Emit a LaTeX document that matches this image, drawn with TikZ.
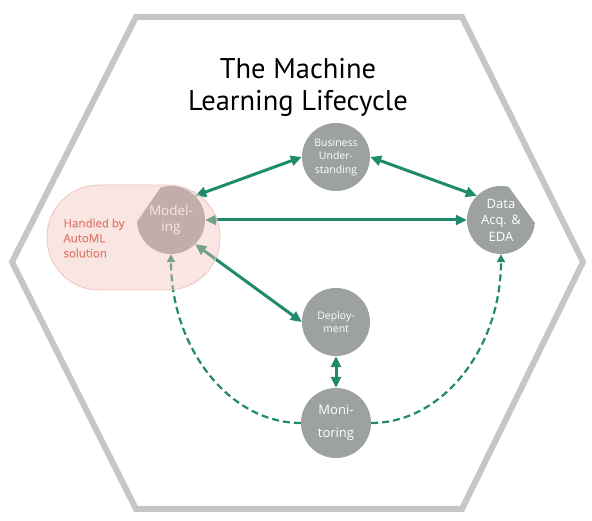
\documentclass[tikz,border=0pt]{standalone}
\usepackage{fontspec}
\setmainfont{Open Sans}
\newfontfamily\titlefont{PT Sans}
\newfontfamily\automlfont[FakeBold=0.9]{Open Sans}
\usetikzlibrary{arrows.meta}
\definecolor{hexgray}{HTML}{C6C6C6}
\definecolor{stagegray}{HTML}{9EA1A1}
\definecolor{cyclegreen}{HTML}{1F8A6C}
\definecolor{automlpink}{HTML}{F2C2BC}
\definecolor{automlline}{HTML}{EFC6C1}
\definecolor{automltext}{HTML}{E27D6D}

\begin{document}
\begin{tikzpicture}[x=1pt,y=1pt,
    stage/.style={circle,minimum size=68pt,inner sep=0pt,text=white,align=center},
    link/.style={cyclegreen,line width=3pt,{Triangle[length=11pt,width=10pt]}-{Triangle[length=11pt,width=10pt]}},
    feedback/.style={cyclegreen,line width=2.2pt,dash pattern=on 7pt off 4pt,-{Triangle[length=8pt,width=8pt]}}]
    \fill[white] (0,0) rectangle (592,521);
    \useasboundingbox (0,0) rectangle (592,521);

    % Frame and title
    \draw[hexgray,line width=6pt] (136,504) -- (462,504) -- (583,259)
    -- (462,12) -- (136,12) -- (12,259) -- cycle;
    \node[font=\titlefont\fontsize{28.5}{32}\selectfont,align=center] (title) at (298,434) {The Machine\\Learning Lifecycle};

    % Stages
    \fill[stagegray] (171,301) ++(183:34) arc[start angle=183,end angle=468,radius=34] -- cycle;
    \fill[stagegray] (501,301) ++(77:34) arc[start angle=77,end angle=355,radius=34] -- cycle;
    \node[stage,font=\fontsize{13.5}{16.5}\selectfont] (model) at (171,301) {Model-\\ing};
    \node[stage,font=\fontsize{13}{16.5}\selectfont] (data) at (501,301) {Data\\Acq. \&\\EDA};
    \node[stage,fill=stagegray,font=\fontsize{10.5}{13.5}\selectfont] (busi) at (336,364) {Business\\Under-\\standing};
    \node[stage,fill=stagegray,font=\fontsize{10.5}{13.5}\selectfont] (depl) at (336,199) {Deploy-\\ment};
    \node[stage,fill=stagegray,minimum size=70pt,font=\fontsize{13}{23}\selectfont] (moni) at (336,98) {Moni-\\toring};

    % Links
    \draw[link] (model.45) -- (busi.west);
    \draw[link] (busi.east) -- (data.135);
    \draw[link] (model.east) -- (data.west);
    \draw[link] (model.-45) -- (depl.west);
    \draw[link] (depl.south) -- (moni.north);

    % Feedback loops
    \draw[feedback] (moni.west) .. controls +(-72,0) and +(0,-93) .. (model.south);
    \draw[feedback] (moni.east) .. controls +(72,0) and +(0,-93) .. (data.south);

    % AutoML
    \filldraw[fill=automlpink,fill opacity=0.42,draw=automlline,line width=0.8pt,rounded corners=52pt] (47,231) rectangle (220,336);
    \node[anchor=west,align=left,text=automltext,font=\automlfont\fontsize{11.5}{15}\selectfont] (automl) at (60,283) {Handled by\\AutoML\\solution};
\end{tikzpicture}
\end{document}
